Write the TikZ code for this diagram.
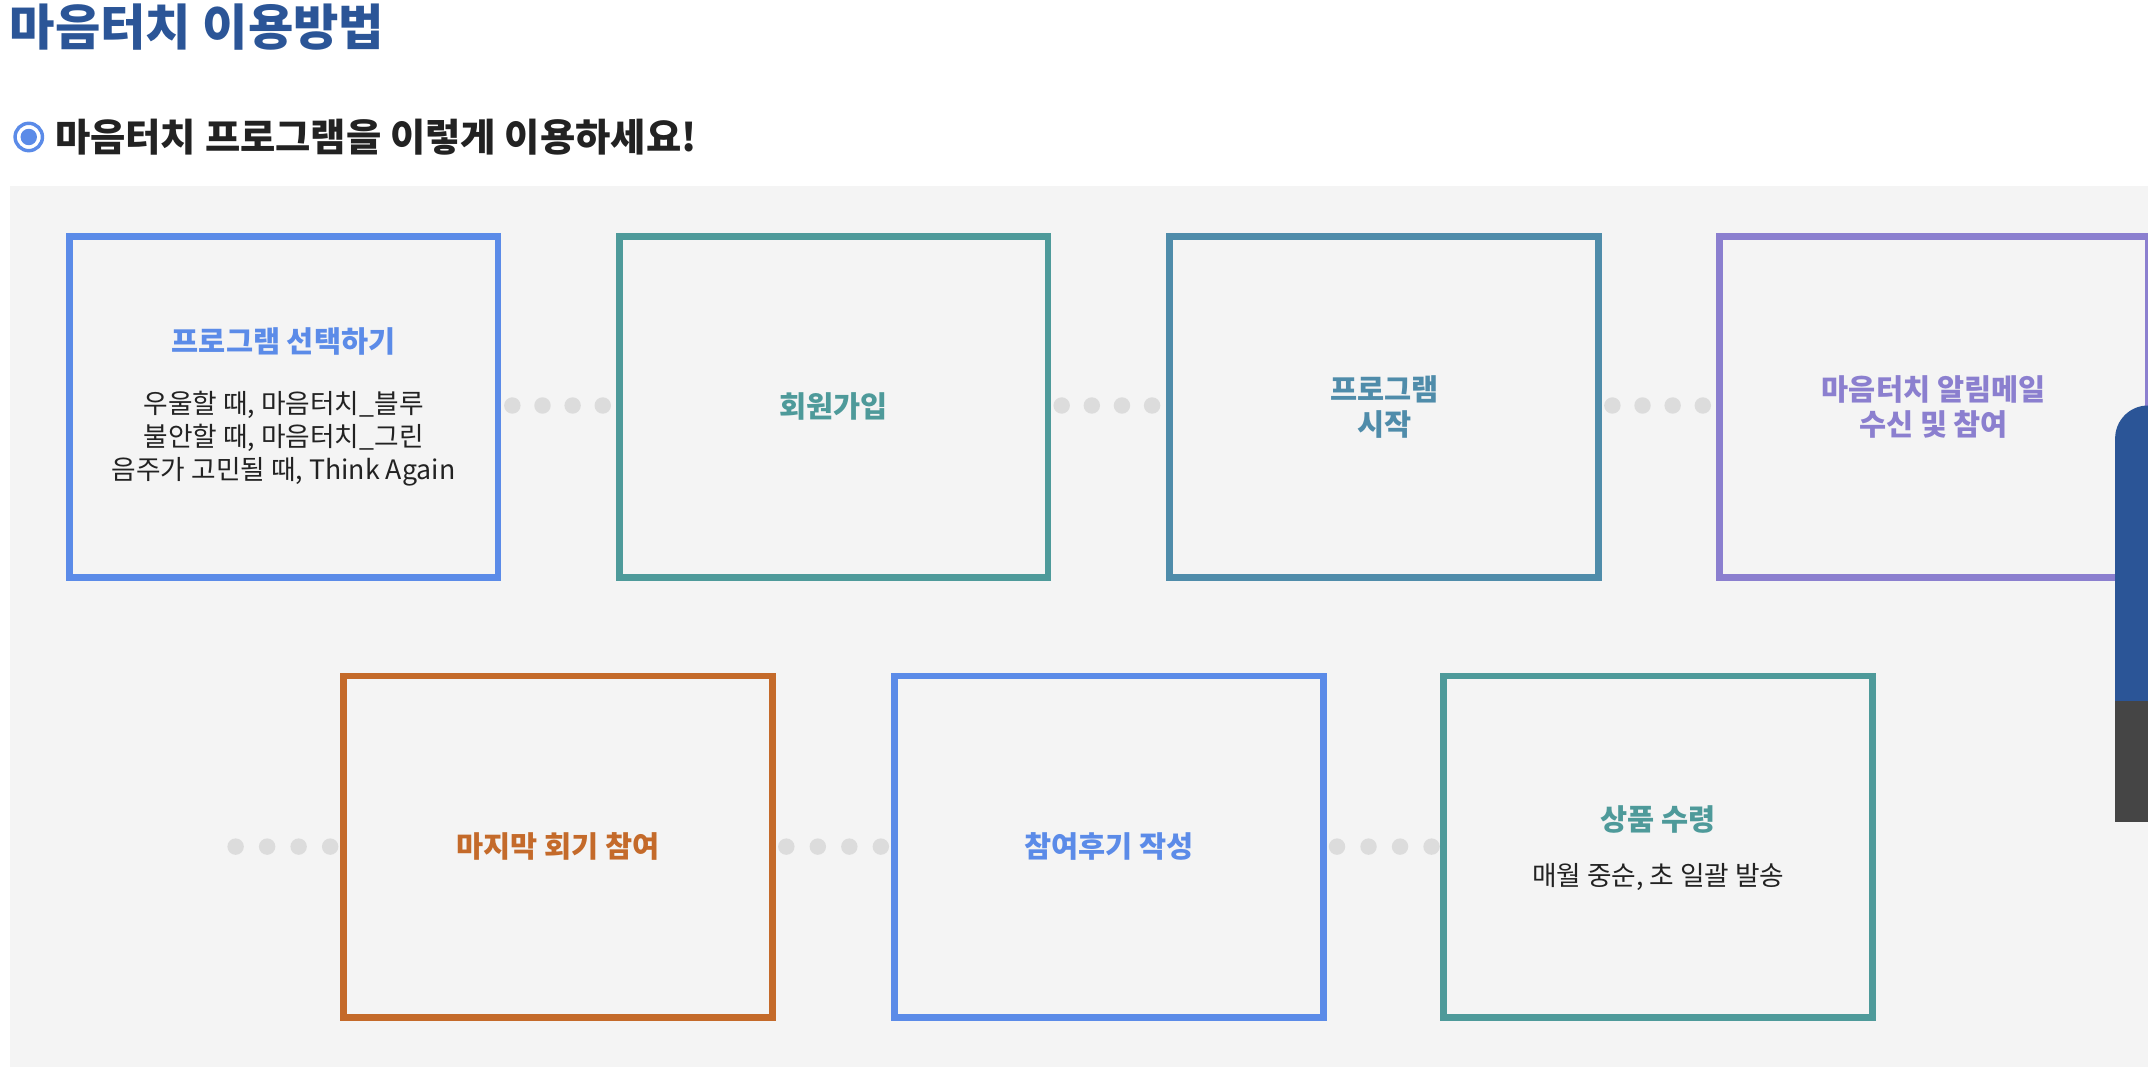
\documentclass[tikz,border=0pt]{standalone}
\usepackage{fontspec}
\setmainfont{Noto Sans CJK KR}
\definecolor{navy}{HTML}{2B5597}
\definecolor{cblue}{HTML}{5B8BE8}
\definecolor{cteal}{HTML}{4E9A9A}
\definecolor{cslate}{HTML}{4F8CAA}
\definecolor{cpurp}{HTML}{8B7FCF}
\definecolor{corange}{HTML}{C46A2A}
\definecolor{bggrey}{HTML}{F4F4F4}
\definecolor{dotgrey}{HTML}{DCDCDC}
\definecolor{txt}{HTML}{222222}
\tikzset{
  x=1pt,y=-1pt,
  stepbox/.style={draw=#1,line width=5pt,fill=bggrey,minimum width=313pt,minimum height=249pt,inner sep=0pt},
  ttl/.style={text=#1,font=\fontsize{21.5}{26}\selectfont\bfseries,align=center},
  body/.style={text=txt,font=\fontsize{19.5}{24}\selectfont,align=center},
  dt/.style={circle,fill=dotgrey,minimum size=12pt,inner sep=0pt}
}
\begin{document}
\begin{tikzpicture}
\useasboundingbox (0,0) rectangle (1568,779);
\fill[white] (0,0) rectangle (1568,779);
\node[anchor=west,text=navy,font=\fontsize{36}{40}\selectfont\bfseries,inner sep=0pt] (h1) at (7,20) {마음터치 이용방법};
\draw[cblue,line width=2.5pt] (21,100) circle (10);
\fill[cblue] (21,100) circle (6);
\node[anchor=west,text=txt,font=\fontsize{28}{32}\selectfont\bfseries,inner sep=0pt] (h2) at (40,100) {마음터치 프로그램을 이렇게 이용하세요!};
\fill[bggrey] (7,136) rectangle (1568,779);
% dots
\foreach \y/\xs in {296/{374,396,418,440,775,797,819,841,1177,1199,1221,1243},618/{172,195,218,241,574,597,620,643,976,999,1022,1045}}
  \foreach \x in \xs \node[dt] at (\x,\y) {};
\node[stepbox=cblue] (b1) at (207,297) {};
\node[stepbox=cteal] (b2) at (608.5,297) {};
\node[stepbox=cslate] (b3) at (1010.5,297) {};
\node[stepbox=cpurp] (b4) at (1411.5,297) {};
\node[stepbox=corange] (b5) at (407.5,618) {};
\node[stepbox=cblue] (b6) at (809.5,618) {};
\node[stepbox=cteal] (b7) at (1210.5,618) {};
% side bar
\fill[navy] (1568,512) -- (1544,512) -- (1544,320) arc (180:270:24) -- (1568,296) -- cycle;
\fill[black!73] (1544,512) rectangle (1568,600);
\node[ttl=cblue] at (207,249) {프로그램 선택하기};
\node[body] at (207,320) {우울할 때, 마음터치\_블루\\불안할 때, 마음터치\_그린\\음주가 고민될 때, Think Again};
\node[ttl=cteal] at (608.5,297) {회원가입};
\node[ttl=cslate] at (1010.5,297) {프로그램\\시작};
\node[ttl=cpurp] at (1411.5,297) {마음터치 알림메일\\수신 및 참여};
\node[ttl=corange] at (407.5,618) {마지막 회기 참여};
\node[ttl=cblue] at (809.5,618) {참여후기 작성};
\node[ttl=cteal] at (1210.5,598) {상품 수령};
\node[body] at (1210.5,640) {매월 중순, 초 일괄 발송};
\end{tikzpicture}
\end{document}
